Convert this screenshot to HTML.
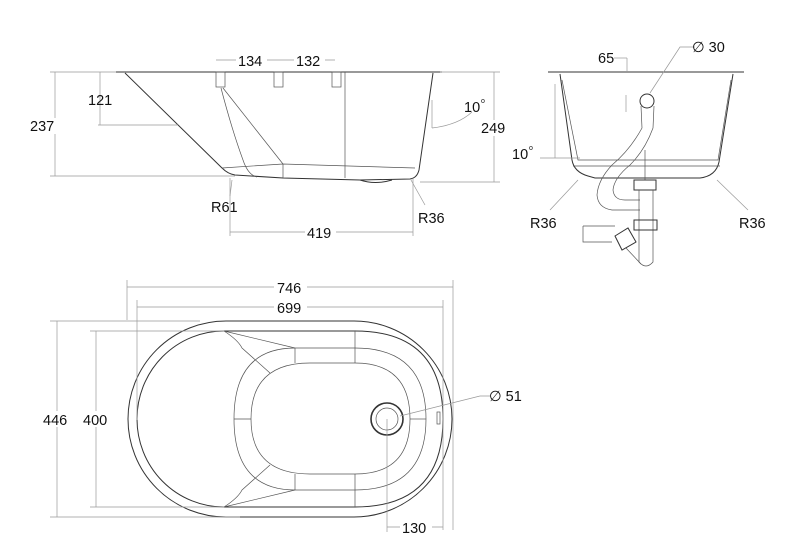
<!DOCTYPE html>
<html><head><meta charset="utf-8"><style>
body{margin:0;background:#fff}
svg{display:block}
text{font-family:"Liberation Sans",sans-serif;font-size:14.5px;fill:#111}
.d{stroke:#999;stroke-width:.7;fill:none}
.o{stroke:#333;stroke-width:1;fill:none}
.t{stroke:#555;stroke-width:.7;fill:none}
</style></head><body>
<svg width="803" height="558" viewBox="0 0 803 558">
<!-- SIDE VIEW -->
<line class="o" x1="116" y1="72" x2="442" y2="72"/>
<path class="o" d="M125,73 L222,168 Q228,174 235,175 L283,178 L360,180 L410,179 Q417,178 419,170 L433,73"/>
<path class="t" d="M222,168 L283,164 L415,168"/>
<path class="t" d="M221,88 Q232,130 243,160 Q248,175 257,177"/>
<line class="t" x1="223" y1="88" x2="283" y2="164"/>
<line class="t" x1="283" y1="164" x2="283" y2="178"/>
<line class="t" x1="345" y1="72" x2="345" y2="178"/>
<path class="o" d="M360,180 Q375,185 392,180"/>
<rect class="t" x="216" y="72" width="9" height="15"/><rect class="t" x="274" y="72" width="9" height="15"/><rect class="t" x="332" y="72" width="9" height="15"/>
<!-- side dims -->
<line class="d" x1="50" y1="72" x2="116" y2="72"/><line class="d" x1="50" y1="176" x2="235" y2="176"/>
<line class="d" x1="55" y1="72" x2="55" y2="176"/><rect x="33" y="118" width="28" height="16" fill="#fff"/><text x="30" y="131">237</text>
<line class="d" x1="100" y1="72" x2="100" y2="125"/><line class="d" x1="98" y1="125" x2="178" y2="125"/><text x="88" y="105">121</text>
<line class="d" x1="440" y1="72" x2="500" y2="72"/><line class="d" x1="420" y1="182" x2="500" y2="182"/>
<line class="d" x1="494" y1="72" x2="494" y2="182"/><rect x="481" y="120" width="28" height="16" fill="#fff"/><text x="481" y="133">249</text>
<line class="d" x1="216" y1="60" x2="335" y2="60"/>
<rect x="236" y="52" width="31" height="16" fill="#fff"/><rect x="294" y="52" width="31" height="16" fill="#fff"/>
<text x="238" y="66">134</text><text x="296" y="66">132</text>
<line class="d" x1="432" y1="100" x2="432" y2="128"/>
<path class="d" d="M432,128 Q458,125 472,112"/><text x="464" y="112">10</text><text x="481" y="103" style="font-size:7px">o</text>
<line class="d" x1="230" y1="178" x2="230" y2="236"/><line class="d" x1="413" y1="178" x2="413" y2="236"/>
<line class="d" x1="230" y1="232" x2="413" y2="232"/><rect x="305" y="224" width="31" height="16" fill="#fff"/><text x="307" y="238">419</text>
<line class="d" x1="232" y1="180" x2="230" y2="196"/><text x="211" y="212">R61</text>
<line class="d" x1="411" y1="180" x2="425" y2="205"/><text x="418" y="223">R36</text>
<!-- FRONT VIEW -->
<line class="o" x1="548" y1="72" x2="744" y2="72"/>
<path class="o" d="M560,74 L572,160 Q574,172 588,176 L595,178 L700,178 Q716,176 719,162 L733,74"/>
<path class="t" d="M562,80 L578,160 L718,160 L731,80"/>
<path class="t" d="M573,166 L720,166"/>
<line class="t" x1="645" y1="150" x2="645" y2="180"/>
<circle class="o" cx="647" cy="101" r="7"/>
<path class="t" d="M641,106 L642,128 Q630,150 612,165 Q598,180 597,195 Q598,208 612,210 L640,210"/>
<path class="t" d="M654,106 L653,128 Q645,150 630,165 Q614,178 613,190 Q614,200 625,200 L640,200"/>
<rect class="o" x="634" y="180" width="22" height="10"/>
<path class="t" d="M639,190 L639,262 Q646,270 653,262 L653,190"/>
<rect class="o" x="634" y="220" width="23" height="10"/>
<path class="t" d="M583,226 L615,226 M583,226 L583,242 L612,242"/>
<path class="o" d="M615,236 L628,228 L636,242 L622,250 Z"/>
<line class="t" x1="626" y1="248" x2="641" y2="264"/>
<line class="d" x1="555" y1="84" x2="555" y2="158"/><line class="d" x1="540" y1="158" x2="580" y2="158"/>
<text x="512" y="159">10</text><text x="529" y="150" style="font-size:7px">o</text>
<line class="d" x1="627" y1="58" x2="627" y2="72"/><line class="d" x1="614" y1="58" x2="627" y2="58"/><text x="598" y="63">65</text>
<line class="d" x1="626" y1="95" x2="626" y2="112"/>
<path class="d" d="M650,93 L680,47 L695,47"/><text x="692" y="52">∅ 30</text>
<line class="d" x1="578" y1="180" x2="550" y2="210"/><text x="530" y="228">R36</text>
<line class="d" x1="717" y1="180" x2="748" y2="210"/><text x="739" y="228">R36</text>
<!-- TOP VIEW -->
<rect class="o" x="128" y="321" width="324" height="196" rx="98" ry="98"/>
<path class="o" d="M224,331 L355,331 Q443,331 443,419 Q443,507 355,507 L224,507 A87,88 0 0 1 224,331 Z"/>
<path class="t" d="M234,419 Q234,348 295,348 L355,348 Q426,348 426,419 Q426,490 355,490 L295,490 Q234,490 234,419"/>
<path class="t" d="M251,419 Q251,363 310,363 L355,363 Q410,363 410,419 Q410,474 355,474 L310,474 Q251,474 251,419"/>
<path class="t" d="M224,331 Q238,340 242,348 L270,373 M224,331 L295,348 M224,507 Q238,498 242,490 L270,465 M224,507 L295,490"/>
<line class="t" x1="295" y1="348" x2="295" y2="363"/><line class="t" x1="295" y1="474" x2="295" y2="490"/>
<line class="t" x1="355" y1="331" x2="355" y2="363"/><line class="t" x1="355" y1="474" x2="355" y2="507"/>
<line class="t" x1="234" y1="419" x2="251" y2="419"/><line class="t" x1="410" y1="419" x2="426" y2="419"/>
<circle cx="387" cy="419" r="16" fill="none" stroke="#333" stroke-width="1.6"/><circle class="t" cx="387" cy="419" r="11"/>
<rect class="t" x="437" y="412" width="3" height="12"/>
<line class="d" x1="127" y1="280" x2="127" y2="320"/><line class="d" x1="453" y1="280" x2="453" y2="530"/>
<line class="d" x1="127" y1="287" x2="453" y2="287"/><rect x="274" y="279" width="33" height="16" fill="#fff"/><text x="277" y="293">746</text>
<line class="d" x1="137" y1="300" x2="137" y2="420"/><line class="d" x1="443" y1="300" x2="443" y2="530"/>
<line class="d" x1="137" y1="307" x2="443" y2="307"/><rect x="274" y="299" width="33" height="16" fill="#fff"/><text x="277" y="313">699</text>
<line class="d" x1="50" y1="321" x2="200" y2="321"/><line class="d" x1="50" y1="517" x2="240" y2="517"/>
<line class="d" x1="57" y1="321" x2="57" y2="517"/><rect x="42" y="411" width="30" height="16" fill="#fff"/><text x="43" y="425">446</text>
<line class="d" x1="90" y1="331" x2="224" y2="331"/><line class="d" x1="90" y1="507" x2="224" y2="507"/>
<line class="d" x1="96" y1="331" x2="96" y2="507"/><rect x="82" y="411" width="30" height="16" fill="#fff"/><text x="83" y="425">400</text>
<line class="d" x1="387" y1="419" x2="387" y2="532"/><line class="d" x1="387" y1="527" x2="443" y2="527"/>
<rect x="400" y="519" width="32" height="16" fill="#fff"/><text x="402" y="533">130</text>
<path class="d" d="M400,416 L480,396 L490,396"/><text x="489" y="401">∅ 51</text>
</svg>
</body></html>
